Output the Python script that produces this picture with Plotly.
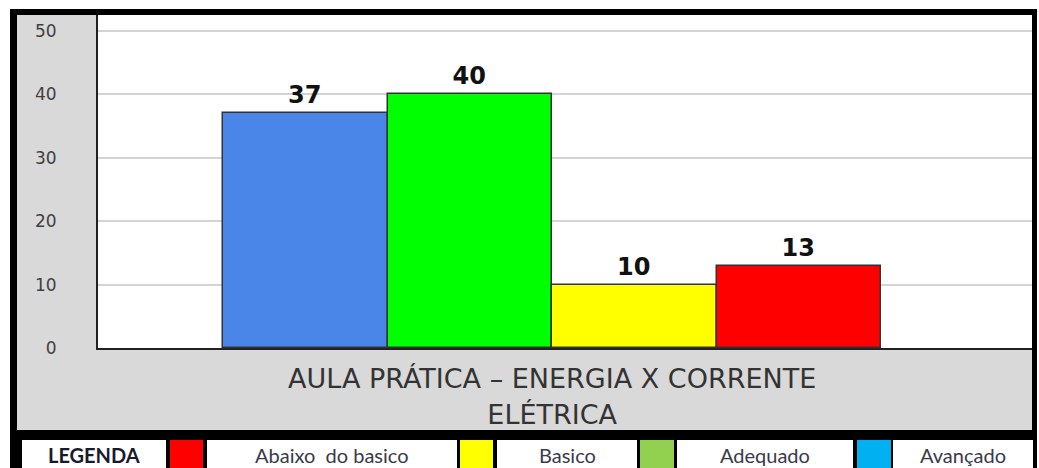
import plotly.graph_objects as go

# ---- data ----
categories = ["AULA PRÁTICA – ENERGIA X CORRENTE<br>ELÉTRICA"]
series_names = ["Avançado", "Adequado", "Basico", "Abaixo do basico"]
series_values = [37, 40, 10, 13]
bar_colors = ["#4a86e8", "#00ff00", "#ffff00", "#ff0000"]
y_ticks = [0, 10, 20, 30, 40, 50]

legend_title = "LEGENDA"
legend_labels = ["Abaixo  do basico", "Basico", "Adequado", "Avançado"]
legend_colors = ["#ff0000", "#ffff00", "#92d050", "#00b0f0"]

W, H = 1039, 468
L, R, T, B = 98, 1032, 15, 348


def px(x):
    return (x - L) / (R - L)


def py(y):
    return (B - y) / (B - T)


fig = go.Figure()
for name, val, col in zip(series_names, series_values, bar_colors):
    fig.add_trace(go.Bar(
        x=categories, y=[val], name=name,
        marker=dict(color=col, line=dict(color="#333333", width=1.5)),
        text=[val], texttemplate="<b>%{text}</b>", textposition="outside",
        textfont=dict(family="DejaVu Sans", size=24, color="#111111"),
        cliponaxis=False, showlegend=False,
    ))

shapes = []
# gray frame background
shapes.append(dict(type="rect", xref="paper", yref="paper", layer="below",
                   x0=px(10), x1=px(1036), y0=py(436), y1=py(9),
                   fillcolor="#d9d9d9", line=dict(width=0)))
# white plot area
shapes.append(dict(type="rect", xref="paper", yref="paper", layer="below",
                   x0=0, x1=1, y0=0, y1=1, fillcolor="#ffffff", line=dict(width=0)))
# black frame borders
for (x0, x1, y0, y1) in [(10, 17, 9, 436), (10, 1036, 9, 15), (1032, 1037, 9, 436),
                         (10, 1037, 430, 468)]:
    shapes.append(dict(type="rect", xref="paper", yref="paper", layer="above",
                       x0=px(x0), x1=px(x1), y0=py(y1), y1=py(y0),
                       fillcolor="#000000", line=dict(width=0)))

# legend row cells
cells = [(22, 166, "#ffffff")]
cell_x = [(170, 203, 207, 457), (460, 493, 497, 637), (640, 674, 677, 853), (857, 891, 893, 1033)]
annotations = []
annotations.append(dict(xref="paper", yref="paper", x=px(94), y=py(455),
                        text="<b>" + legend_title + "</b>", showarrow=False,
                        font=dict(family="Lato", size=20, color="#1a1a2e"),
                        xanchor="center", yanchor="middle"))
for (c0, c1, t0, t1), lab, col in zip(cell_x, legend_labels, legend_colors):
    cells.append((c0, c1, col))
    cells.append((t0, t1, "#ffffff"))
    annotations.append(dict(xref="paper", yref="paper", x=px((t0 + t1) / 2), y=py(455),
                            text=lab, showarrow=False,
                            font=dict(family="Lato", size=20, color="#3a3a4a"),
                            xanchor="center", yanchor="middle"))
for (c0, c1, col) in cells:
    shapes.append(dict(type="rect", xref="paper", yref="paper", layer="above",
                       x0=px(c0), x1=px(c1), y0=py(470), y1=py(440),
                       fillcolor=col, line=dict(width=0)))

fig.update_layout(
    width=W, height=H,
    margin=dict(l=L, r=W - R, t=T, b=H - B),
    paper_bgcolor="#ffffff", plot_bgcolor="rgba(0,0,0,0)",
    barmode="group", bargap=0, bargroupgap=0,
    shapes=shapes, annotations=annotations,
    xaxis=dict(range=[-0.69, 0.729], showgrid=False, showline=True,
               linecolor="#222222", linewidth=2, ticks="", ticklabelstandoff=6,
               tickfont=dict(family="DejaVu Sans", size=27, color="#333333"),
               fixedrange=True),
    yaxis=dict(range=[0, 52.5], tickvals=y_ticks, showgrid=True,
               gridcolor="#d4d4d4", gridwidth=1.5, zeroline=False,
               showline=True, linecolor="#222222", linewidth=2,
               ticks="", ticklabelstandoff=36,
               tickfont=dict(family="DejaVu Sans", size=17, color="#404040"),
               fixedrange=True),
    font=dict(family="DejaVu Sans"),
)

fig.write_html(
    "out.html",
    config={"displayModeBar": False},
    post_script="document.body.style.margin='0';document.body.style.overflow='hidden';",
)
